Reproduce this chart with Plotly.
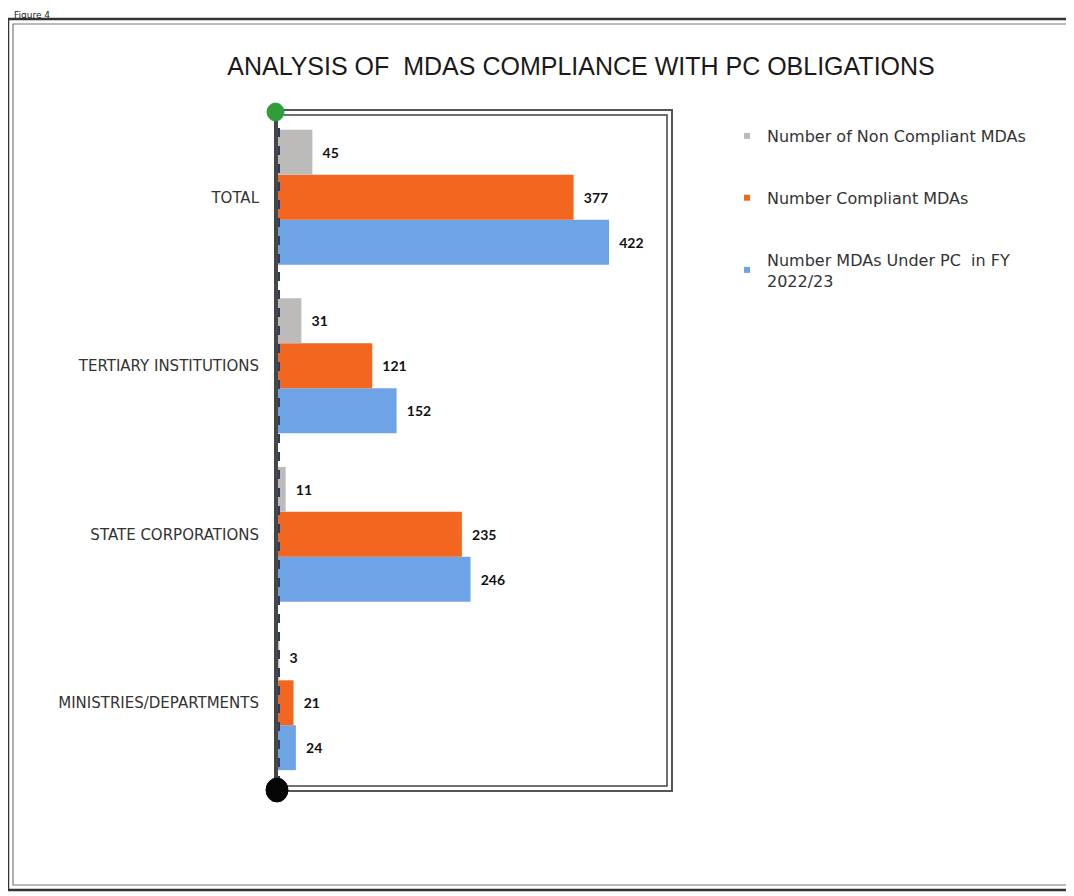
"""
MDAs compliance with PC obligations – grouped horizontal bar chart.
"""

import plotly.graph_objects as go

# ── Data ─────────────────────────────────────────────────────────────────────
categories = ["MINISTRIES/DEPARTMENTS", "STATE CORPORATIONS", "TERTIARY INSTITUTIONS", "TOTAL"]
under_pc = [24, 246, 152, 422]
compliant = [21, 235, 121, 377]
non_compliant = [3, 11, 31, 45]

series_names = [
    "Number MDAs Under PC  in FY<br>2022/23",
    "Number Compliant MDAs",
    "Number of Non Compliant MDAs",
]

# ── Styling ──────────────────────────────────────────────────────────────────
COLORS = ["#6ea3e6", "#f2661f", "#bdbaba"]
LABEL_FONT = "'DejaVu Sans', 'Noto Sans', sans-serif"

# page offset (body margin) and plot-area geometry in page pixels
OFF = 8
W, H = 1074 - OFF, 896 - OFF
PX_L, PX_R, PX_T, PX_B = 277, 668, 113, 787


def px_x(px):
    return (px - PX_L) / (PX_R - PX_L)


def px_y(py):
    return (PX_B - py) / (PX_B - PX_T)


fig = go.Figure()

# bars: first trace sits at the bottom of each group
for name, vals, color in zip(series_names, [under_pc, compliant, non_compliant], COLORS):
    fig.add_trace(go.Bar(
        y=categories,
        x=vals,
        orientation="h",
        name=name,
        showlegend=False,
        marker=dict(color=color, line=dict(width=0)),
        text=vals,
        texttemplate="\u00a0\u00a0<b>%{text}</b>",
        textposition="outside",
        textfont=dict(color="#111111", size=14, family="Lato, sans-serif"),
        cliponaxis=False,
    ))

# legend entries with small square markers, top-to-bottom order
for name, color in reversed(list(zip(series_names, COLORS))):
    fig.add_trace(go.Scatter(
        x=[None], y=[None],
        mode="markers",
        name=name,
        legendgroup="lg_" + name,
        marker=dict(symbol="square", size=6, color=color),
    ))

# ── Decorations (frames, dots, dashed guide) ─────────────────────────────────
shapes = [
    # page frame – double line
    dict(type="rect", xref="paper", yref="paper",
         x0=px_x(8), x1=px_x(1090), y0=px_y(890), y1=px_y(19),
         line=dict(color="#333333", width=2.5)),
    dict(type="rect", xref="paper", yref="paper",
         x0=px_x(13), x1=px_x(1090), y0=px_y(885), y1=px_y(24),
         line=dict(color="#777777", width=1.2)),
    # plot frame – double line with shadow
    dict(type="rect", xref="paper", yref="paper",
         x0=px_x(277), x1=px_x(672), y0=px_y(791), y1=px_y(110),
         line=dict(color="#555555", width=2)),
    dict(type="rect", xref="paper", yref="paper",
         x0=px_x(277), x1=px_x(667), y0=px_y(786), y1=px_y(115),
         line=dict(color="#444444", width=1.5)),
    # dashed guide next to the axis
    dict(type="line", xref="paper", yref="paper",
         x0=px_x(279), x1=px_x(279), y0=px_y(785), y1=px_y(118),
         line=dict(color="#2a3a6a", width=2, dash="dash")),
    dict(type="line", xref="paper", yref="paper",
         x0=px_x(275), x1=px_x(275), y0=px_y(785), y1=px_y(118),
         line=dict(color="#444444", width=2)),
    # green dot on top, black dot at bottom
    dict(type="circle", xref="paper", yref="paper",
         x0=px_x(267), x1=px_x(284), y0=px_y(121), y1=px_y(103),
         fillcolor="#2f9e3a", line=dict(color="#2f9e3a", width=1)),
    dict(type="circle", xref="paper", yref="paper",
         x0=px_x(266), x1=px_x(288), y0=px_y(802), y1=px_y(778),
         fillcolor="#050505", line=dict(color="#050505", width=1)),
]

fig.update_layout(
    width=W,
    height=H,
    plot_bgcolor="white",
    paper_bgcolor="white",
    margin=dict(l=PX_L - OFF, r=W + OFF - PX_R, t=PX_T - OFF, b=H + OFF - PX_B),
    barmode="group",
    bargap=0.2,
    bargroupgap=0,
    showlegend=True,
    title=dict(
        text="ANALYSIS OF  MDAS COMPLIANCE WITH PC OBLIGATIONS",
        x=(581 - OFF) / W, xanchor="center",
        y=1 - (66 - OFF) / H, yanchor="middle",
        font=dict(size=25, color="#1a1a1a", family="'Liberation Sans', Arial, sans-serif"),
    ),
    xaxis=dict(
        range=[0, 497],
        visible=False,
        showgrid=False,
        zeroline=False,
    ),
    yaxis=dict(
        showgrid=False,
        showline=False,
        ticks="",
        ticklabelstandoff=17,
        tickfont=dict(size=15, color="#333333", family=LABEL_FONT),
    ),
    legend=dict(
        x=px_x(727), xanchor="left",
        y=px_y(119), yanchor="top",
        traceorder="grouped",
        tracegroupgap=38,
        itemwidth=30,
        font=dict(size=16, color="#333333", family=LABEL_FONT),
        bgcolor="rgba(0,0,0,0)",
    ),
    shapes=shapes,
    annotations=[
        dict(text="Figure 4", xref="paper", yref="paper",
             x=px_x(12), xanchor="left", y=px_y(8), yanchor="top",
             showarrow=False, font=dict(size=9, color="#222222", family=LABEL_FONT)),
    ],
)

fig.write_html("out.html")
